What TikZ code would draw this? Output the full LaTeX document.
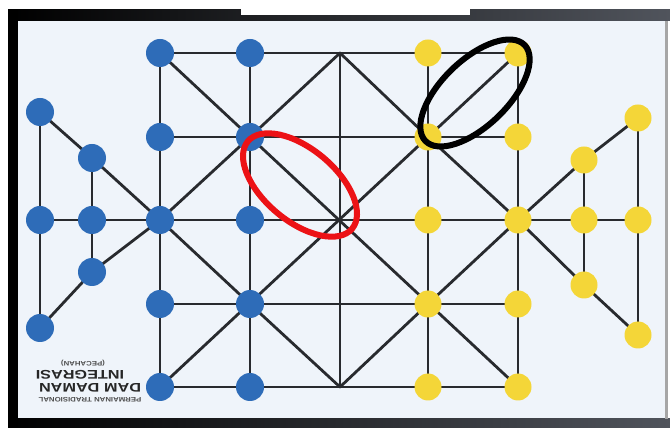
\documentclass[tikz,border=0pt]{standalone}
\usepackage{fontspec}
\setsansfont{Liberation Sans}
\pgfdeclarelayer{board}
\pgfdeclarelayer{lines}
\pgfsetlayers{board,lines,main}
\definecolor{bluedot}{RGB}{46,108,184}
\definecolor{yellowdot}{RGB}{244,214,56}
\definecolor{boardbg}{RGB}{239,244,250}
\definecolor{gridline}{RGB}{40,42,46}
\definecolor{ringred}{RGB}{236,18,22}
\definecolor{bandgrey}{RGB}{80,84,92}
\begin{document}
\begin{tikzpicture}[x=1pt,y=-1pt,
  bdot/.style={circle, fill=bluedot, minimum size=28pt, inner sep=0pt},
  ydot/.style={circle, fill=yellowdot, minimum size=27pt, inner sep=0pt},
  gline/.style={draw=gridline, line width=2.8pt, line cap=round, line join=round},
  ring/.style={line width=6pt},
  boxtext/.style={font=\sffamily\bfseries\fontsize{12.5}{13}\selectfont, text=black!85, inner sep=0pt, rotate=180, xscale=1.3},
  smalltext/.style={font=\sffamily\bfseries\fontsize{6.5}{7}\selectfont, text=black!70, inner sep=0pt, rotate=180, xscale=1.2}]
\useasboundingbox (0,0) rectangle (670,430);
% board
\begin{pgfonlayer}{board}
  \fill[white] (0,0) rectangle (670,430);
  \fill[boardbg] (18,21) rectangle (666,420);
  \shade[left color=black, right color=bandgrey] (8,10) rectangle (670,21);
  \shade[left color=black, right color=bandgrey] (8,419) rectangle (670,428);
  \fill[black] (8,10) rectangle (18,427);
  \fill[gray!70] (665,21) rectangle (668,419);
  \fill[white] (241,0) rectangle (470,15);
\end{pgfonlayer}
% grid points
\foreach \r/\yy in {1/53,2/137,3/220,4/304,5/387}{
  \node[bdot] (g1\r) at (160,\yy) {};
  \node[bdot] (g2\r) at (250,\yy) {};
  \coordinate (g3\r) at (340,\yy);
  \node[ydot] (g4\r) at (428,\yy) {};
  \node[ydot] (g5\r) at (518,\yy) {};
}
% left wing
\node[bdot] (la) at (40,112) {};
\node[bdot] (lb) at (92,158) {};
\node[bdot] (lc) at (40,220) {};
\node[bdot] (ld) at (92,220) {};
\node[bdot] (le) at (92,272) {};
\node[bdot] (lf) at (40,328) {};
% right wing
\node[ydot] (ra) at (638,118) {};
\node[ydot] (rb) at (584,160) {};
\node[ydot] (rc) at (584,220) {};
\node[ydot] (rd) at (638,220) {};
\node[ydot] (re) at (584,285) {};
\node[ydot] (rf) at (638,335) {};
% lines
\begin{pgfonlayer}{lines}
  \foreach \r in {1,2,4,5}{
    \draw[gline] (g1\r.center) -- (g5\r.center);
  }
  \draw[gline] (lc.center) -- (rd.center);
  \foreach \c in {1,...,5}{
    \draw[gline] (g\c1.center) -- (g\c5.center);
  }
  \draw[gline] (la.center) -- (lf.center);
  \draw[gline] (lb.center) -- (le.center);
  \draw[gline] (ra.center) -- (rf.center);
  \draw[gline] (rb.center) -- (re.center);
  % wing diagonals
  \draw[gline] (la.center) -- (lb.center) -- (g13.center);
  \draw[gline] (lf.center) -- (le.center) -- (g13.center);
  \draw[gline] (g53.center) -- (rb.center) -- (ra.center);
  \draw[gline] (g53.center) -- (re.center) -- (rf.center);
  % board diagonals
  \draw[gline] (g11.center) -- (g55.center);
  \draw[gline] (g15.center) -- (g51.center);
  \draw[gline] (g31.center) -- (g22.center) -- (g13.center) -- (g24.center) -- (g35.center) -- (g44.center) -- (g53.center) -- (g42.center) -- cycle;
\end{pgfonlayer}
% mirrored caption
\node[smalltext] (t1) at (83,363) {(PECAHAN)};
\node[boxtext] (t2) at (80,375) {INTEGRASI};
\node[boxtext] (t3) at (90,388) {DAM DAMAN};
\node[smalltext] (t4) at (90,400) {PERMAINAN TRADISIONAL};
% highlight rings
\draw[ring, draw=ringred, rotate around={-40:(300,185)}] (300,185) ellipse [x radius=68pt, y radius=36pt];
\draw[ring, draw=black, rotate around={44:(475,93)}] (475,93) ellipse [x radius=69pt, y radius=33pt];
\end{tikzpicture}
\end{document}
